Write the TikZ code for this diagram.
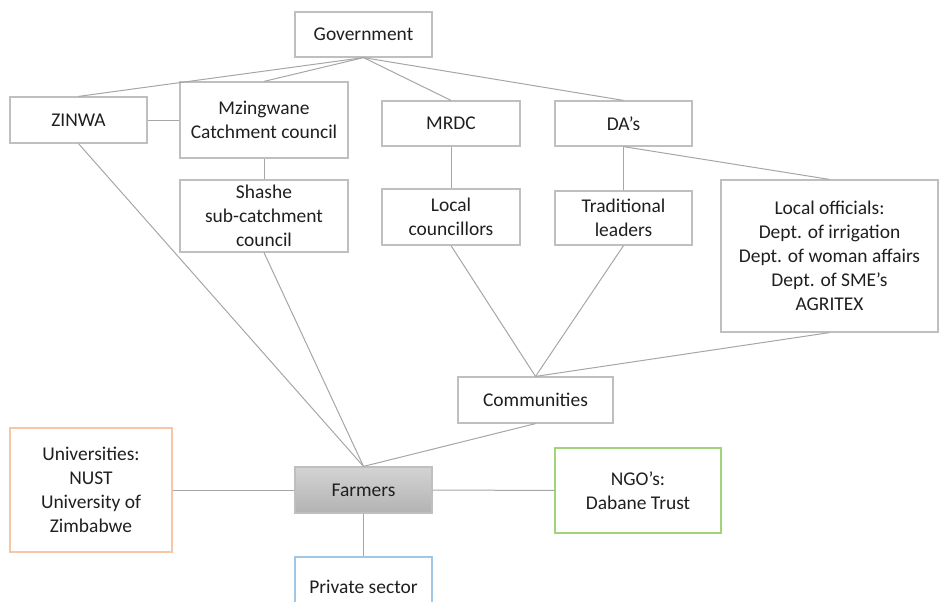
\documentclass[tikz,border=0pt]{standalone}
\usepackage{fontspec}
\setmainfont{Carlito}
\definecolor{uniorange}{RGB}{246,198,166}
\definecolor{ngogreen}{RGB}{160,212,120}
\definecolor{privblue}{RGB}{160,198,232}
\begin{document}
\begin{tikzpicture}
    [x=0.75pt, y=-0.75pt,
     box/.style = {draw=black!25, line width=0.9pt, align=center, inner sep=2pt,
                   text=black!88, font=\fontsize{14.6}{18}\selectfont},
     wh/.style 2 args = {minimum width=#1, minimum height=#2},
     link/.style = {draw=black!35, line width=0.75pt}]
    \useasboundingbox (0,0) rectangle (939,601);
    % government level
    \node[box, wh={102.75pt}{33.75pt}] (gov) at (363.5,34.5) {Government};
    \node[box, wh={102.75pt}{34.5pt}] (zinwa) at (78.5,120) {ZINWA};
    \node[box, wh={126pt}{57pt}] (mzing) at (264,120) {Mzingwane\\Catchment council};
    \node[box, wh={103.5pt}{33.75pt}] (mrdc) at (451,123.5) {MRDC};
    \node[box, wh={102.75pt}{33.75pt}] (das) at (623.5,123.5) {DA’s};
    % local level
    \node[box, wh={126pt}{54pt}] (shashe) at (264,216) {Shashe\\sub-catchment\\council};
    \node[box, wh={103.5pt}{42pt}] (lcoun) at (451,217) {Local\\councillors};
    \node[box, wh={102.75pt}{40.5pt}] (trad) at (623.5,218) {Traditional\\leaders};
    \node[box, wh={162.75pt}{114pt}] (loff) at (829.5,256)
        {Local officials:\\Dept. of irrigation\\Dept. of woman affairs\\Dept. of SME’s\\AGRITEX};
    \node[box, wh={116.25pt}{34.5pt}] (comm) at (535.5,400) {Communities};
    % farmers and partners
    \node[box, wh={102.75pt}{34.5pt}, top color=black!17, bottom color=black!30] (farm) at (363.5,490) {Farmers};
    \node[box, draw=uniorange, wh={121.5pt}{93pt}] (univ) at (91,490)
        {Universities:\\NUST\\University of\\Zimbabwe};
    \node[box, draw=ngogreen, wh={124.5pt}{63.75pt}] (ngo) at (638,490.5) {NGO’s:\\Dabane Trust};
    \node[box, draw=privblue, wh={102.75pt}{45pt}] (priv) at (363.5,587) {Private sector};
    % links
    \foreach \n in {zinwa, mzing, mrdc, das}
        \draw[link] (gov.south) -- (\n.north);
    \draw[link] (zinwa) -- (mzing);
    \draw[link] (mzing) -- (shashe);
    \draw[link] (mrdc) -- (lcoun);
    \draw[link] (das) -- (trad);
    \draw[link] (das.south) -- (loff.north);
    \foreach \n in {lcoun, trad, loff}
        \draw[link] (\n.south) -- (comm.north);
    \foreach \n in {zinwa, shashe, comm}
        \draw[link] (\n.south) -- (farm.north);
    \draw[link] (univ) -- (farm);
    \draw[link] (farm) -- (ngo);
    \draw[link] (farm) -- (priv);
\end{tikzpicture}
\end{document}
